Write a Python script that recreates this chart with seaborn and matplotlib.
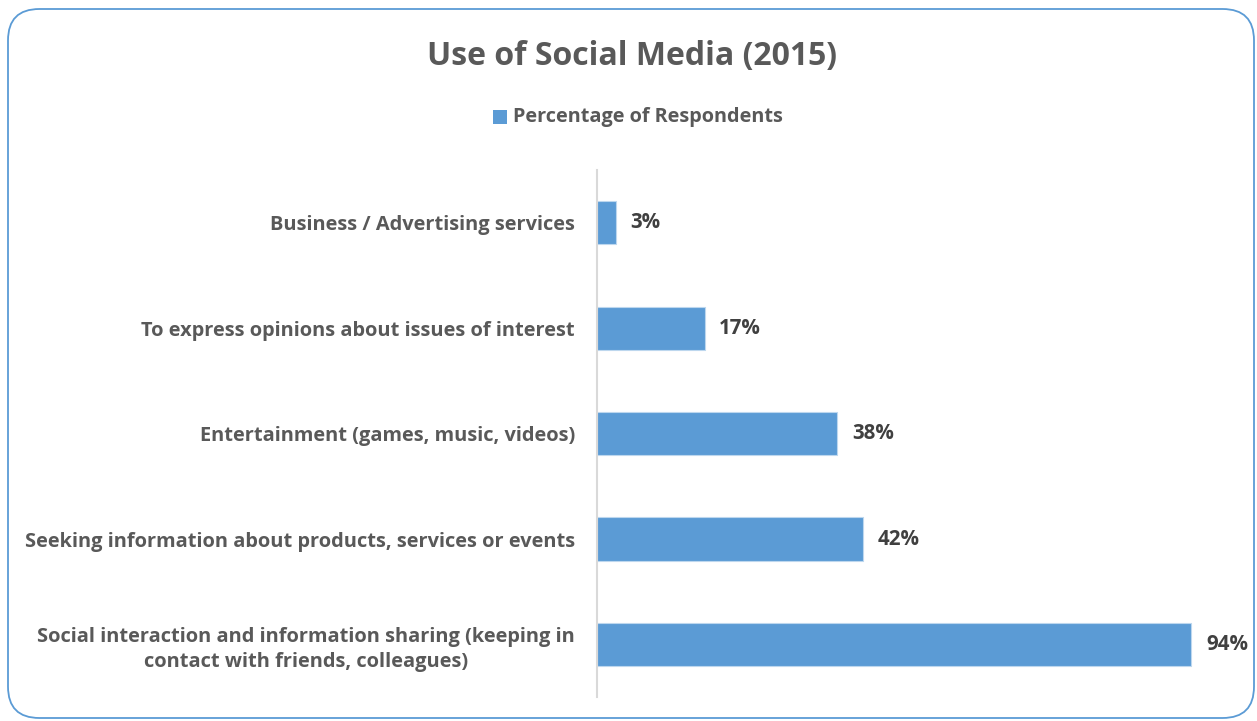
import matplotlib
matplotlib.use("Agg")
import matplotlib.pyplot as plt
from matplotlib.patches import FancyBboxPatch, Rectangle
import seaborn as sns
import pandas as pd

title = "Use of Social Media (2015)"
series_name = "Percentage of Respondents"
categories = [
    "Business / Advertising services",
    "To express opinions about issues of interest",
    "Entertainment (games, music, videos)",
    "Seeking information about products, services or events",
    "Social interaction and information sharing (keeping in\ncontact with friends, colleagues)",
]
values = [3, 17, 38, 42, 94]

df = pd.DataFrame({"category": categories, "value": values})

sns.set_theme(style="white")
plt.rcParams["font.family"] = ["Open Sans", "DejaVu Sans"]

bar_color = "#5B9BD5"
label_color = "#595959"
value_color = "#404040"

fig = plt.figure(figsize=(12.57, 7.21), dpi=100)
ax = fig.add_axes([0.475, 0.033, 0.503, 0.731])

sns.barplot(data=df, x="value", y="category", orient="h", color=bar_color,
            width=0.41, edgecolor="#BDD7EE", linewidth=0.8, saturation=1, ax=ax)

ax.set_xlim(0, 100)
ax.set_ylim(4.5, -0.5)
ax.set_xlabel("")
ax.set_ylabel("")
ax.set_xticks([])
for s in ["top", "right", "bottom"]:
    ax.spines[s].set_visible(False)
ax.spines["left"].set_color("#D9D9D9")
ax.spines["left"].set_linewidth(1.5)

ax.tick_params(axis="y", length=0, pad=16)
for lbl in ax.get_yticklabels():
    lbl.set_fontsize(14.4)
    lbl.set_fontweight("bold")
    lbl.set_color(label_color)
    lbl.set_multialignment("center")
    lbl.set_linespacing(1.3)

for i, v in enumerate(values):
    ax.annotate(f"{v}%", xy=(v, i), xytext=(10.5, 0), textcoords="offset points",
                ha="left", va="center", fontsize=14.8, fontweight="bold",
                color=value_color)

fig.text(0.503, 1 - 57 / 721, title, ha="center", va="center", fontsize=23,
         fontweight="bold", color=label_color)

# legend entry
fig.patches.append(Rectangle((493 / 1257, 1 - 124 / 721), 14 / 1257, 14 / 721,
                             transform=fig.transFigure, facecolor=bar_color,
                             edgecolor="none"))
fig.text(513 / 1257, 1 - 117 / 721, series_name, ha="left", va="center",
         fontsize=14.3, fontweight="bold", color=label_color)

# rounded chart border
border = FancyBboxPatch((8 / 1257, 3 / 721), 1246 / 1257, 709 / 721,
                        boxstyle="round,pad=0,rounding_size=0.025",
                        transform=fig.transFigure, facecolor="none",
                        edgecolor="#5B9BD5", linewidth=1.3,
                        mutation_aspect=1257 / 721)
fig.patches.append(border)

fig.savefig("out.png", dpi=100, facecolor="white")
